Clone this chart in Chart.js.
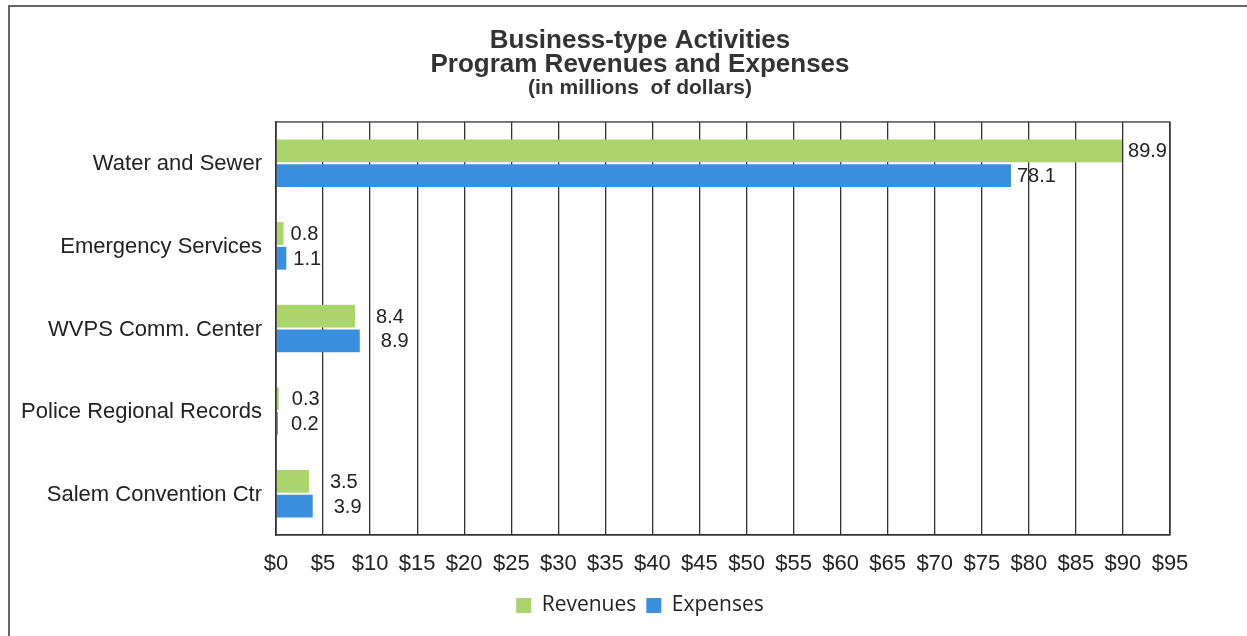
<!DOCTYPE html>
<html>
<head>
<meta charset="utf-8">
<script src="https://cdn.jsdelivr.net/npm/chart.js@4"></script>
<style>
  html, body { margin: 0; padding: 0; background: #fff; }
  #wrap { width: 1247px; height: 636px; position: relative; }
</style>
</head>
<body>
<div id="wrap"><canvas id="chart" width="1247" height="636"></canvas></div>
<script>
const CATEGORIES = [
  'Water and Sewer',
  'Emergency Services',
  'WVPS Comm. Center',
  'Police Regional Records',
  'Salem Convention Ctr',
];
const REVENUES = [89.9, 0.8, 8.4, 0.3, 3.5];
const EXPENSES = [78.1, 1.1, 8.9, 0.2, 3.9];
const X_MAX = 95;
const X_STEP = 5;

// gap between a bar end and its value label, per category
const LABEL_GAP = [6, 7, 21, 13, 21];

const GREEN = '#abd46c';
const BLUE = '#3b8fdf';
const TEXT = '#222';
const FONT = '"Liberation Sans", Arial, sans-serif';

const frame = {
  id: 'frame',
  beforeDraw(chart) {
    const { ctx } = chart;
    ctx.save();
    ctx.strokeStyle = '#666';
    ctx.lineWidth = 2;
    ctx.beginPath();
    ctx.moveTo(9, 636);
    ctx.lineTo(9, 6);
    ctx.lineTo(1247, 6);
    ctx.stroke();
    ctx.restore();
  },
  afterDatasetsDraw(chart) {
    const { ctx, chartArea: a } = chart;
    ctx.save();
    ctx.strokeStyle = '#333';
    ctx.lineWidth = 1.3;
    ctx.strokeRect(a.left, a.top, a.right - a.left, a.bottom - a.top);
    ctx.restore();
  },
};

// category names are wider than the y axis box, so they are drawn here
// (the axis box would clip them)
const categoryLabels = {
  id: 'categoryLabels',
  afterDraw(chart) {
    const { ctx } = chart;
    const y = chart.scales.y;
    ctx.save();
    ctx.font = '22px ' + FONT;
    ctx.fillStyle = TEXT;
    ctx.textAlign = 'right';
    ctx.textBaseline = 'middle';
    chart.data.labels.forEach((label, i) => {
      ctx.fillText(label, chart.chartArea.left - 14, y.getPixelForTick(i) + 1);
    });
    ctx.restore();
  },
};

const valueLabels = {
  id: 'valueLabels',
  afterDatasetsDraw(chart) {
    const { ctx } = chart;
    ctx.save();
    ctx.font = '20px ' + FONT;
    ctx.fillStyle = TEXT;
    ctx.textAlign = 'left';
    ctx.textBaseline = 'middle';
    chart.data.datasets.forEach((ds, di) => {
      chart.getDatasetMeta(di).data.forEach((bar, i) => {
        ctx.fillText(ds.data[i].toFixed(1), bar.x + LABEL_GAP[i], bar.y + 1);
      });
    });
    ctx.restore();
  },
};

new Chart(document.getElementById('chart'), {
  type: 'bar',
  data: {
    labels: CATEGORIES,
    datasets: [
      { label: 'Revenues', data: REVENUES, backgroundColor: GREEN },
      { label: 'Expenses', data: EXPENSES, backgroundColor: BLUE },
    ],
  },
  options: {
    indexAxis: 'y',
    responsive: false,
    animation: false,
    datasets: {
      bar: { categoryPercentage: 0.6, barPercentage: 0.92 },
    },
    // left padding keeps the titles centred over the plot
    layout: { padding: { left: 110, right: 77, top: 17, bottom: 10 } },
    scales: {
      x: {
        min: 0,
        max: X_MAX,
        ticks: {
          stepSize: X_STEP,
          padding: 16,
          color: TEXT,
          font: { family: FONT, size: 22 },
          callback: (v) => '$' + v,
        },
        grid: { color: '#333', lineWidth: 1.3, drawTicks: false },
        border: { color: '#333', width: 1.3 },
        afterFit(scale) { scale.height = 50; },
      },
      y: {
        ticks: { display: false },
        grid: { display: false, drawTicks: false },
        border: { color: '#333', width: 1.3 },
        afterFit(scale) { scale.width = 166; },
      },
    },
    plugins: {
      title: {
        display: true,
        text: ['Business-type Activities', 'Program Revenues and Expenses'],
        color: '#333',
        font: { family: FONT, size: 26, weight: 'bold', lineHeight: 0.92 },
        padding: { top: 12, bottom: 0 },
      },
      subtitle: {
        display: true,
        text: '(in millions  of dollars)',
        color: '#333',
        font: { family: FONT, size: 21, weight: 'bold', lineHeight: 1.1 },
        padding: { top: 0, bottom: 22 },
      },
      legend: {
        position: 'bottom',
        labels: {
          boxWidth: 15,
          boxHeight: 15,
          padding: 10,
          color: TEXT,
          font: { family: '"Open Sans", sans-serif', size: 21 },
        },
      },
      tooltip: { enabled: false },
    },
  },
  plugins: [frame, categoryLabels, valueLabels],
});
</script>
</body>
</html>
